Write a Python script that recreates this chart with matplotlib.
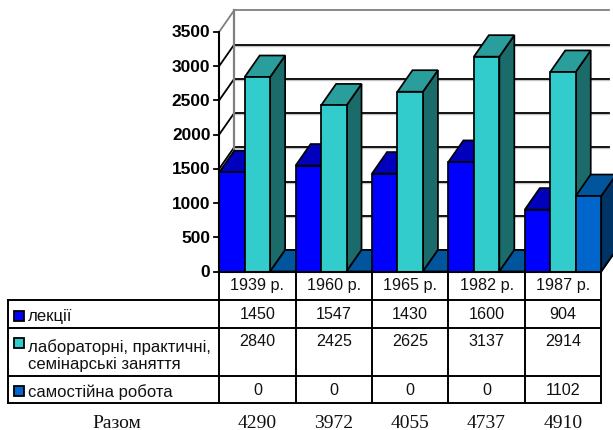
import matplotlib
matplotlib.use('Agg')
import matplotlib.pyplot as plt
from matplotlib.patches import Polygon, Rectangle

# Chart data
years = ['1939 р.', '1960 р.', '1965 р.', '1982 р.', '1987 р.']
lectures = [1450, 1547, 1430, 1600, 904]
seminars = [2840, 2425, 2625, 3137, 2914]
selfwork = [0, 0, 0, 0, 1102]
totals = [4290, 3972, 4055, 4737, 4910]
yticks = [0, 500, 1000, 1500, 2000, 2500, 3000, 3500]

row_names = ['лекції', 'лабораторні, практичні,\nсемінарські заняття', 'самостійна робота']
total_name = 'Разом'

# front, top, side colours
colors = [('#0000ff', '#0000bd', '#00009c'),
          ('#33cccc', '#2a9d9d', '#1c6b6b'),
          ('#0066cc', '#00559c', '#003366')]

W, H = 613, 431
# pixel positions of the plot
x0, x1 = 219.2, 601.2
y0, y3500 = 272.5, 32.8
# depth of the 3d box in pixels
depth_px = (15.0, 21.5)

plt.rcParams['font.family'] = ['Liberation Sans', 'DejaVu Sans']
fig = plt.figure(figsize=(W / 100, H / 100), dpi=100)

# chart axes, x in categories and y in values
ax = fig.add_axes([x0 / W, 1 - y0 / H, (x1 - x0) / W, (y0 - y3500) / H])
ax.set_xlim(0, len(years))
ax.set_ylim(0, 3500)
ax.axis('off')

dx = depth_px[0] * len(years) / (x1 - x0)
dy = depth_px[1] * 3500 / (y0 - y3500)
right = len(years) + 0.1

# back wall and gridlines
for v in yticks:
    col = '#808080' if v == 3500 else 'black'
    # soft grey shadow under the gridline
    if v < 3500:
        ax.plot([dx, right], [v + dy - 15, v + dy - 15], color='#c4c4c4', lw=1, clip_on=False, zorder=1)
    ax.plot([dx, right], [v + dy, v + dy], color=col, lw=1.3, clip_on=False, zorder=1.1)
    ax.plot([0, dx], [v, v + dy], color=col, lw=1.3, clip_on=False, zorder=1.1)
    ax.plot([-0.065, 0], [v, v], color='black', lw=1.3, clip_on=False, zorder=1.1)
    ax.text(-0.115, v, str(v), ha='right', va='center', fontsize=12.4, fontweight='bold', color='black')
ax.plot([dx, dx], [dy, 3500 + dy], color='#808080', lw=1.6, clip_on=False, zorder=1.1)
ax.plot([5, 5 + dx], [0, dy], color='black', lw=1.3, clip_on=False, zorder=1.1)

# bars, left to right so each one hides the side of the previous one
z = 2
bw = 1 / 3
for i in range(len(years)):
    for j, vals in enumerate([lectures, seminars, selfwork]):
        l = i + j * bw
        r = l + bw
        h = vals[i]
        front, top, side = colors[j]
        ax.add_patch(Polygon([(r, 0), (r + dx, dy), (r + dx, h + dy), (r, h)], closed=True,
                             fc=side, ec='black', lw=1.25, clip_on=False, zorder=z))
        ax.add_patch(Polygon([(l, h), (l + dx, h + dy), (r + dx, h + dy), (r, h)], closed=True,
                             fc=top, ec='black', lw=1.25, clip_on=False, zorder=z))
        ax.add_patch(Rectangle((l, 0), bw, h, fc=front, ec='black', lw=1.25, clip_on=False, zorder=z + 0.1))
        z += 1
ax.plot([0, 0], [0, 3500], color='black', lw=1.5, clip_on=False, zorder=z)
ax.plot([0, 5], [0, 0], color='black', lw=1.5, clip_on=False, zorder=z)

# table below the chart, drawn on a pixel axes
tb = fig.add_axes([0, 0, 1, 1])
tb.set_xlim(0, W)
tb.set_ylim(H, 0)
tb.axis('off')
tb.patch.set_alpha(0)

col_w = (x1 - x0) / len(years)
col_x = [x0 + col_w * k for k in range(len(years) + 1)]
rows_y = [300.5, 328.5, 376.5, 404.0]
left = 8.0

for x in col_x:
    tb.plot([x, x], [y0, rows_y[-1]], color='black', lw=1.4)
tb.plot([left, left], [rows_y[0], rows_y[-1]], color='black', lw=1.4)
for y in rows_y:
    tb.plot([left, x1], [y, y], color='black', lw=1.4)

tfs = 11.6
for k, yr in enumerate(years):
    xc = col_x[k] + col_w / 2
    tb.text(xc, 285.5, yr, ha='center', va='center', fontsize=tfs, color='#111111')
    tb.text(xc, 315, str(lectures[k]), ha='center', va='center', fontsize=tfs, color='#111111')
    tb.text(xc, 342, str(seminars[k]), ha='center', va='center', fontsize=tfs, color='#111111')
    tb.text(xc, 390.5, str(selfwork[k]), ha='center', va='center', fontsize=tfs, color='#111111')
    tb.text(xc, 424, str(totals[k]), ha='center', va='center', fontsize=14,
            family='Liberation Serif', color='#111111')

label_y = [316.5, 355.5, 392.5]
swatch_y = [316.5, 344, 392]
for name, ly, sy, c in zip(row_names, label_y, swatch_y, colors):
    tb.add_patch(Rectangle((13.5, sy - 5), 10.5, 10, fc=c[0], ec='black', lw=1.3))
    tb.text(27.5, ly, name, ha='left', va='center', fontsize=12, linespacing=1.23, color='#111111')
tb.text(116.5, 424, total_name, ha='center', va='center', fontsize=14,
        family='Liberation Serif', color='#111111')

fig.savefig('out.png', dpi=100)
